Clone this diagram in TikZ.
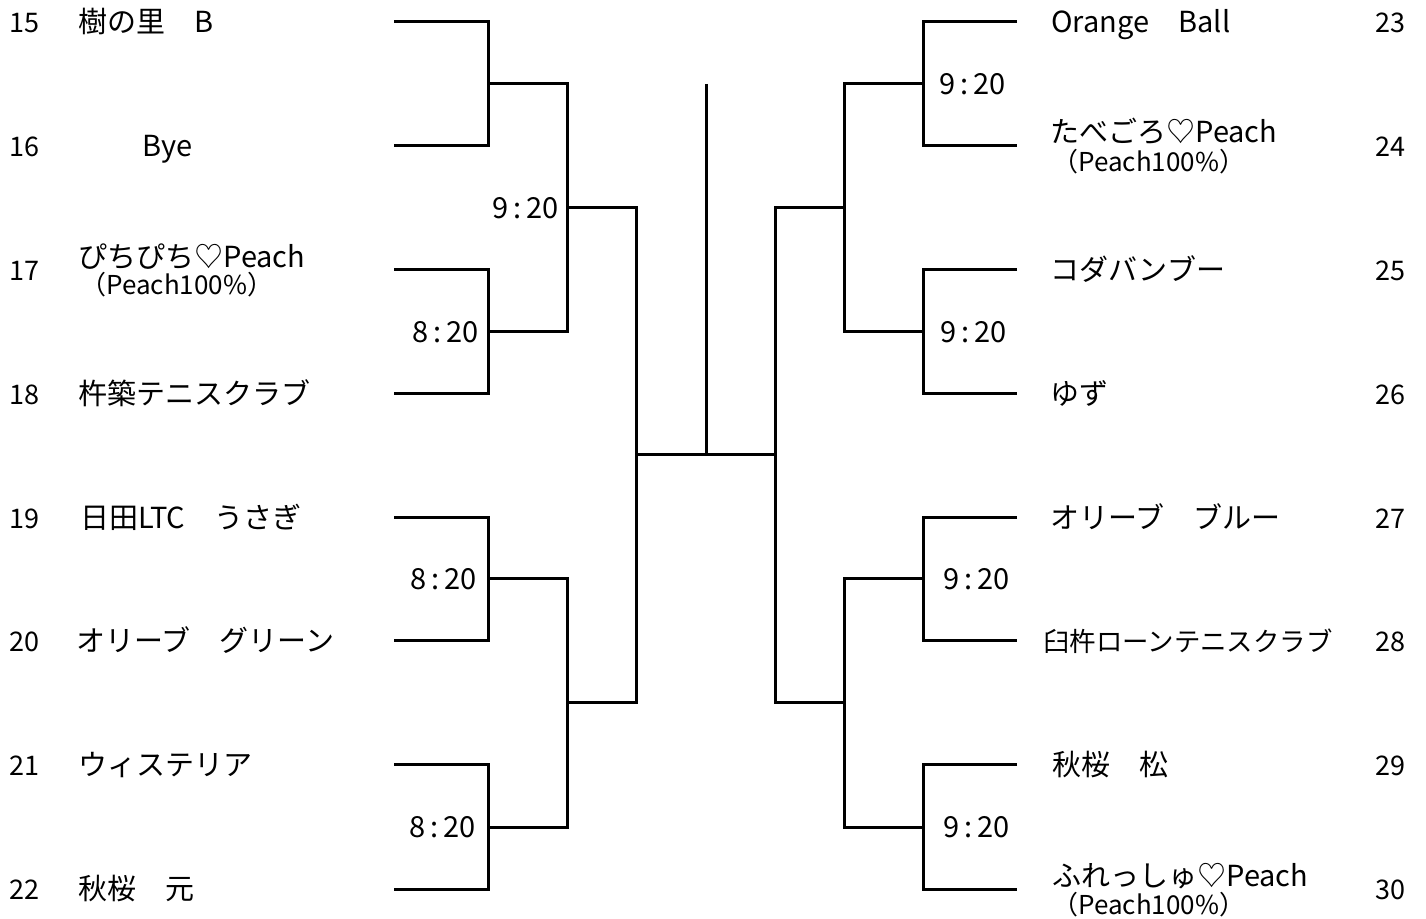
\documentclass[tikz,border=0pt]{standalone}
\usepackage{fontspec}
\setmainfont{Noto Sans CJK JP}
\usepackage{tikz}
\usetikzlibrary{positioning}
\tikzstyle{bracket}=[line width=1.5pt, black]
\tikzstyle{txt}=[inner sep=0pt, text height=1.05em, text depth=0pt]
\tikzstyle{seed}=[txt, anchor=west, font=\fontsize{13.5}{15}\selectfont]
\tikzstyle{seedr}=[txt, anchor=east, font=\fontsize{13.5}{15}\selectfont]
\tikzstyle{team}=[txt, anchor=west, font=\fontsize{14.5}{16}\selectfont]
\tikzstyle{sub}=[txt, anchor=west, font=\fontsize{13}{14}\selectfont]
\tikzstyle{scorel}=[txt, anchor=east, font=\fontsize{14.5}{16}\selectfont]
\tikzstyle{scorer}=[txt, anchor=west, font=\fontsize{14.5}{16}\selectfont]

\begin{document}
\begin{tikzpicture}[x=0.5pt, y=-0.5pt]
    \useasboundingbox (0,0) rectangle (1426,919);

    % entry lines, left and right
    \foreach \n/\y in {15/22, 16/146, 17/270, 18/394, 19/518, 20/641, 21/765, 22/889}
      \coordinate (e\n) at (394,\y);
    \foreach \n/\y in {23/22, 24/146, 25/270, 26/394, 27/518, 28/641, 29/765, 30/889}
      \coordinate (e\n) at (1017,\y);

    % first round joins
    \coordinate (a1) at (488,84);  \coordinate (a2) at (488,332);
    \coordinate (a3) at (488,579); \coordinate (a4) at (488,827);
    \coordinate (a5) at (923,84);  \coordinate (a6) at (923,332);
    \coordinate (a7) at (923,579); \coordinate (a8) at (923,827);

    % second round joins
    \coordinate (c1) at (567,208); \coordinate (c2) at (567,703);
    \coordinate (c3) at (844,208); \coordinate (c4) at (844,703);

    % semi-final joins and final
    \coordinate (sl) at (636,455); \coordinate (sr) at (775,455);
    \coordinate (ctr) at (706,455); \coordinate (top) at (706,84);

    \draw[bracket] (e15) -| (a1) |- (e16);
    \draw[bracket] (e17) -| (a2) |- (e18);
    \draw[bracket] (e19) -| (a3) |- (e20);
    \draw[bracket] (e21) -| (a4) |- (e22);
    \draw[bracket] (e23) -| (a5) |- (e24);
    \draw[bracket] (e25) -| (a6) |- (e26);
    \draw[bracket] (e27) -| (a7) |- (e28);
    \draw[bracket] (e29) -| (a8) |- (e30);

    \draw[bracket] (a1) -| (c1) |- (a2);
    \draw[bracket] (a3) -| (c2) |- (a4);
    \draw[bracket] (a5) -| (c3) |- (a6);
    \draw[bracket] (a7) -| (c4) |- (a8);

    \draw[bracket] (c1) -| (sl) |- (c2);
    \draw[bracket] (c3) -| (sr) |- (c4);
    \draw[bracket] (sl) -- (sr);
    \draw[bracket] (top) -- (ctr);

    % seed numbers
    \foreach \n/\y in {15/22, 16/146, 17/270, 18/394, 19/518, 20/641, 21/765, 22/889}
      \node[seed] (s\n) at (9,\y) {\n};
    \foreach \n/\y in {23/22, 24/146, 25/270, 26/394, 27/518, 28/641, 29/765, 30/889}
      \node[seedr] (s\n) at (1406,\y) {\n};

    % teams, left
    \node[team] (t15) at (78,22) {樹の里　B};
    \node[team] (t16) at (142,146) {Bye};
    \node[team] (t17) at (78,257) {ぴちぴち♡Peach};
    \node[sub] (u17) at (80,284) {（Peach100\%）};
    \node[team] (t18) at (78,394) {杵築テニスクラブ};
    \node[team] (t19) at (80,518) {日田LTC　うさぎ};
    \node[team] (t20) at (76,641) {オリーブ　グリーン};
    \node[team] (t21) at (78,765) {ウィステリア};
    \node[team] (t22) at (78,889) {秋桜　元};

    % teams, right
    \node[team] (t23) at (1051,22) {Orange　Ball};
    \node[team] (t24) at (1050,132) {たべごろ♡Peach};
    \node[sub] (u24) at (1052,161) {（Peach100\%）};
    \node[team] (t25) at (1050,270) {コダバンブー};
    \node[team] (t26) at (1050,394) {ゆず};
    \node[team] (t27) at (1050,518) {オリーブ　ブルー};
    \node[team, font=\fontsize{13.2}{15}\selectfont] (t28) at (1043,641) {臼杵ローンテニスクラブ};
    \node[team] (t29) at (1052,765) {秋桜　松};
    \node[team] (t30) at (1052,876) {ふれっしゅ♡Peach};
    \node[sub] (u30) at (1052,904) {（Peach100\%）};

    % match times
    \node[scorel] (m1) at (559,208) {9\,:\,20};
    \node[scorel] (m2) at (479,332) {8\,:\,20};
    \node[scorel] (m3) at (477,579) {8\,:\,20};
    \node[scorel] (m4) at (476,827) {8\,:\,20};
    \node[scorer] (m5) at (939,84) {9\,:\,20};
    \node[scorer] (m6) at (940,332) {9\,:\,20};
    \node[scorer] (m7) at (943,579) {9\,:\,20};
    \node[scorer] (m8) at (943,827) {9\,:\,20};
\end{tikzpicture}
\end{document}
